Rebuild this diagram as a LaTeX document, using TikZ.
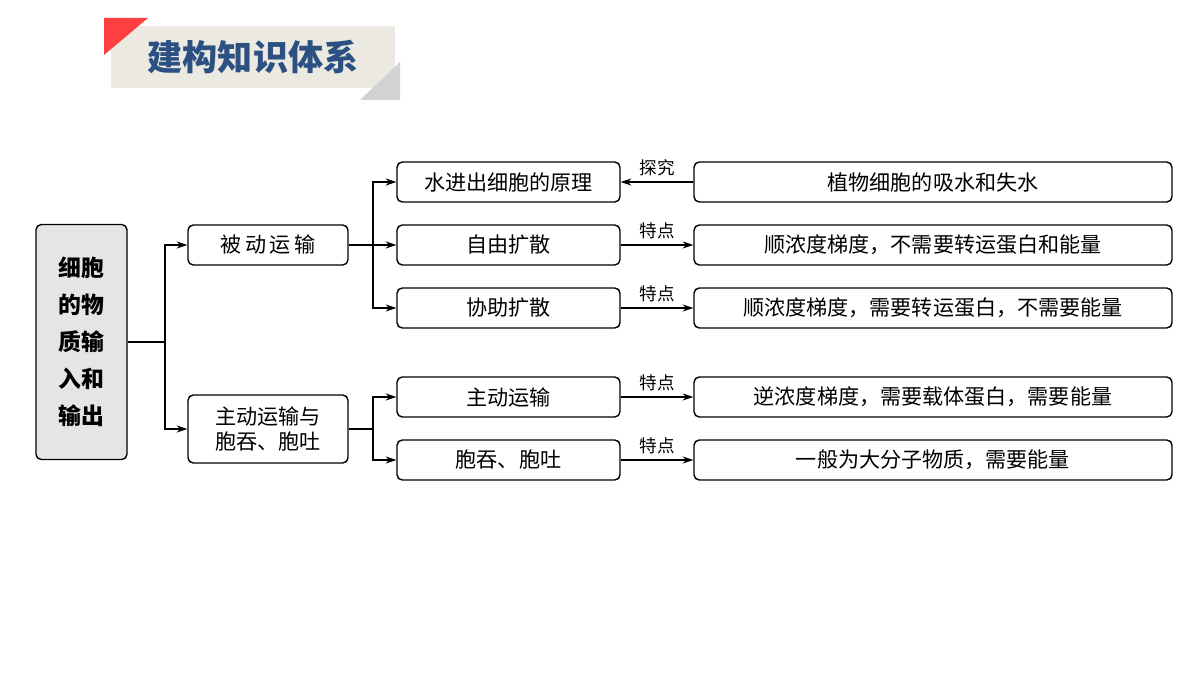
\documentclass[tikz,border=0pt]{standalone}
\usepackage{fontspec}
\setmainfont{Noto Sans CJK SC}
\usetikzlibrary{arrows.meta,calc}
\definecolor{titleblue}{RGB}{45,80,130}
\definecolor{titlebg}{RGB}{236,234,224}
\tikzset{
  box/.style={draw,rounded corners=3pt,thick,minimum height=0.8cm,inner sep=0pt,font=\fontsize{12}{14}\selectfont},
  conn/.style={thick},
  arr/.style={thick,-{Stealth[length=6pt,width=4pt]}},
  lab/.style={font=\fontsize{10}{12}\selectfont,above},
}
\begin{document}
\begin{tikzpicture}[x=0.02cm,y=-0.02cm]
  \useasboundingbox (0,0) rectangle (1200,675);
  % Titel
  \fill[titlebg] (111,26) rectangle (395,88);
  \fill[red!75!white] (104,18) -- (148,18) -- (104,55) -- cycle;
  \fill[gray!35] (400,62) -- (400,100) -- (360,100) -- cycle;
  \node[font=\bfseries\fontsize{20}{22}\selectfont,text=titleblue] (title) at (253,57) {建构知识体系};
  % Wurzel
  \node[box,fill=gray!20,minimum width=91*0.02cm,minimum height=235*0.02cm,align=center,font=\bfseries\fontsize{13}{21}\selectfont] (root) at (81.5,342) {细胞\\的物\\质输\\入和\\输出};
  % erste Ebene
  \node[box,minimum width=160*0.02cm] (passiv) at (268,245) {被\,动\,运\,输};
  \node[box,minimum width=160*0.02cm,minimum height=68*0.02cm,align=center] (aktiv) at (268,429) {主动运输与\\胞吞、胞吐};
  % zweite Ebene
  \foreach \n/\y/\t in {wasser/182/水进出细胞的原理, frei/245/自由扩散, hilf/308/协助扩散, akt/397/主动运输, endo/460/胞吞、胞吐}
    \node[box,minimum width=223*0.02cm] (\n) at (508.5,\y) {\t};
  % Merkmale
  \foreach \n/\y/\t in {pflanze/182/植物细胞的吸水和失水, mfrei/245/顺浓度梯度，不需要转运蛋白和能量, mhilf/308/顺浓度梯度，需要转运蛋白，不需要能量, makt/397/逆浓度梯度，需要载体蛋白，需要能量, mendo/460/一般为大分子物质，需要能量}
    \node[box,minimum width=478*0.02cm] (\n) at (933,\y) {\t};
  % Verbindungen
  \coordinate (s0) at (165,342);
  \draw[conn] (root.east) -- (s0);
  \draw[arr] (s0) |- (passiv.west);
  \draw[arr] (s0) |- (aktiv.west);
  \coordinate (s1) at (373,245);
  \draw[conn] (passiv.east) -- (s1);
  \draw[arr] (s1) |- (wasser.west);
  \draw[arr] (s1) -- (frei.west);
  \draw[arr] (s1) |- (hilf.west);
  \coordinate (s2) at (373,429);
  \draw[conn] (aktiv.east) -- (s2);
  \draw[arr] (s2) |- (akt.west);
  \draw[arr] (s2) |- (endo.west);
  \draw[arr] (pflanze.west) -- node[lab]{探究} (wasser.east);
  \foreach \a/\b in {frei/mfrei, hilf/mhilf, akt/makt, endo/mendo}
    \draw[arr] (\a.east) -- node[lab]{特点} (\b.west);
\end{tikzpicture}
\end{document}
